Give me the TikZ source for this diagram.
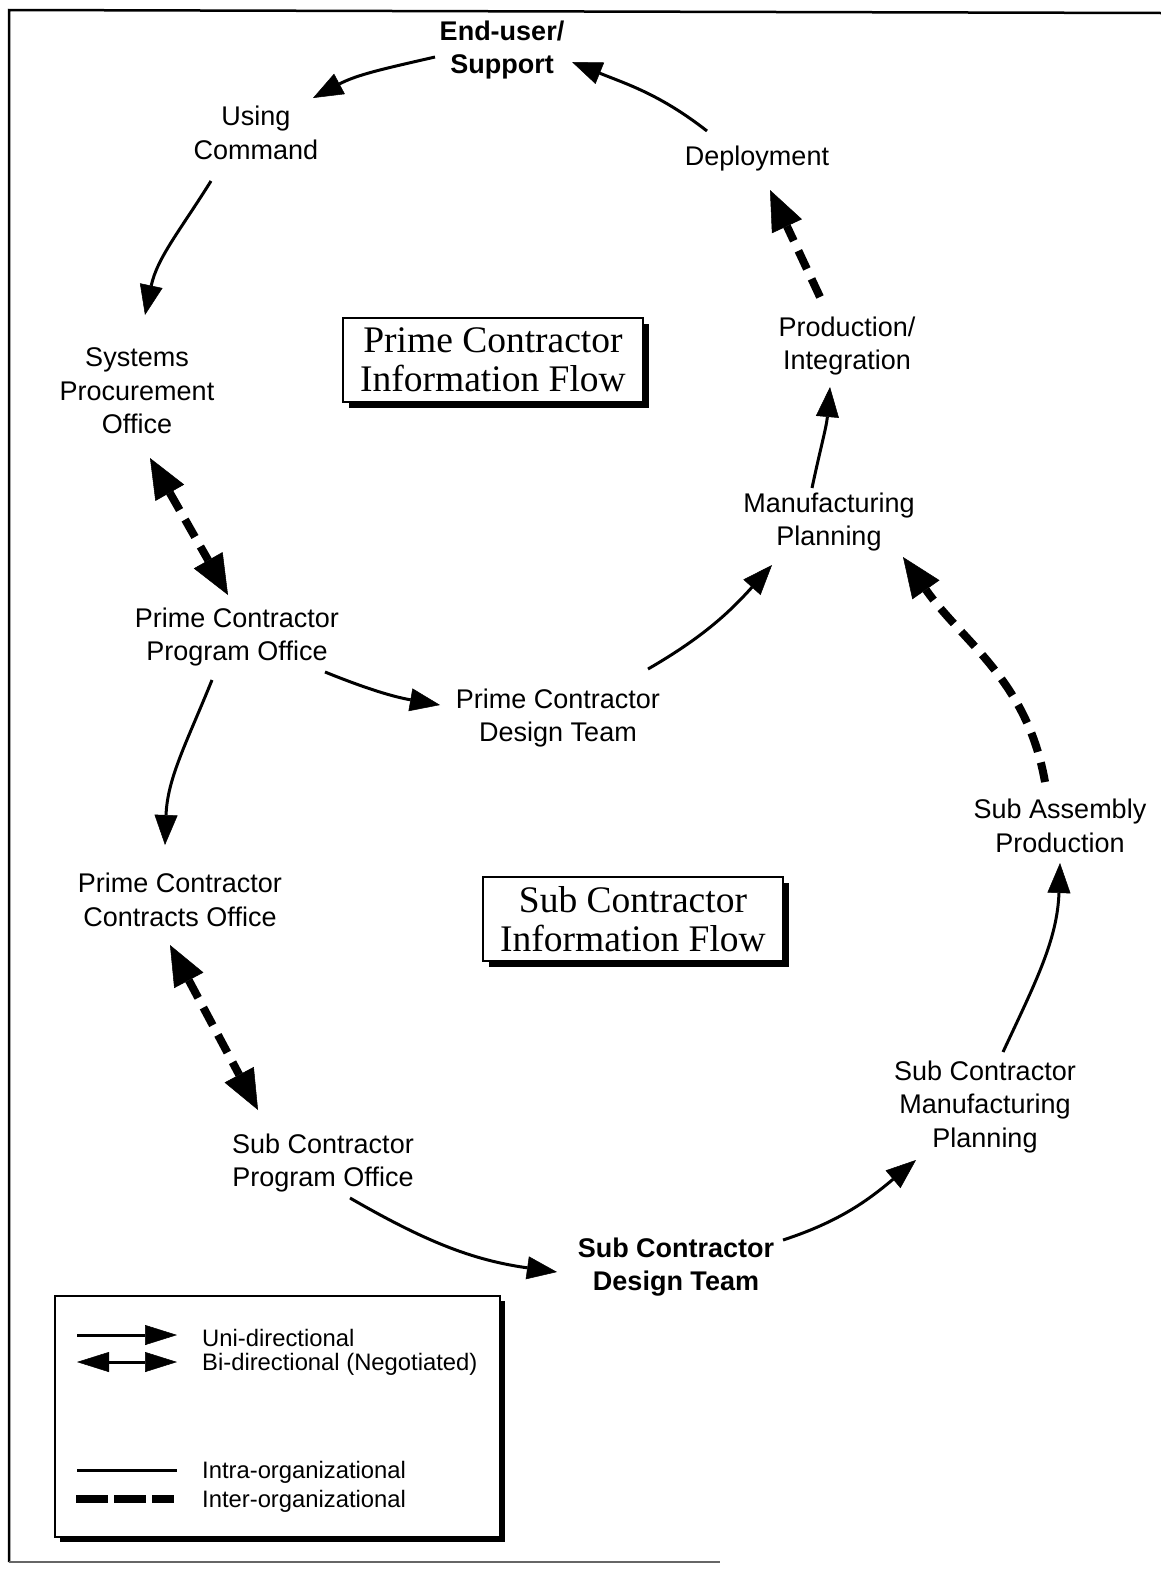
\documentclass[tikz,border=0pt]{standalone}
\usepackage{fontspec}
\setmainfont{Liberation Sans}
\newfontfamily\seriffam{Liberation Serif}
\usetikzlibrary{arrows.meta,shadows}
\begin{document}
\begin{tikzpicture}[x=1pt,y=1pt,
  lbl/.style={font=\fontsize{27}{33.5}\selectfont, align=center, inner sep=0pt},
  bl/.style={font=\fontsize{27}{33.5}\selectfont\bfseries, align=center, inner sep=0pt},
  sol/.style={line width=3pt, -{Triangle[length=30pt,width=23pt,line width=0.5pt]}},
  dsh/.style={line width=8pt, dash pattern=on 20pt off 11pt, -{Triangle[length=40pt,width=33pt,line width=0.5pt]}},
  dsh2/.style={line width=8pt, dash pattern=on 20pt off 11pt, {Triangle[length=40pt,width=33pt,line width=0.5pt]}-{Triangle[length=40pt,width=33pt,line width=0.5pt]}},
  titlebox/.style={draw, line width=2pt, fill=white, minimum width=300pt, minimum height=84pt,
    inner sep=0pt, align=center, font=\seriffam\fontsize{37.5}{39}\selectfont,
    drop shadow={shadow xshift=6pt, shadow yshift=-6pt, fill=black, opacity=1}},
  legtxt/.style={font=\fontsize{23.8}{27}\selectfont, anchor=west, inner sep=0pt}
]
\useasboundingbox (0,0) rectangle (1161,-1569);
% frame
\draw[line width=2.5pt] (1161,-13) -- (9,-10) -- (9,-1562);
\draw[line width=2pt, black!60] (9,-1562) -- (720,-1562);

% nodes
\node[bl]  (eu)   at (502,-50)   {End-user/\\Support};
\node[lbl] (uc)   at (256,-133)  {Using\\Command};
\node[lbl] (dep)  at (757,-159)  {Deployment};
\node[lbl] (spo)  at (137,-391)  {Systems\\Procurement\\Office};
\node[lbl] (prod) at (847,-346)  {Production/\\Integration};
\node[lbl] (mp)   at (829,-522)  {Manufacturing\\Planning};
\node[lbl] (ppo)  at (237,-637)  {Prime Contractor\\Program Office};
\node[lbl] (pdt)  at (558,-718)  {Prime Contractor\\Design Team};
\node[lbl] (sap)  at (1060,-826) {Sub Assembly\\Production};
\node[lbl] (pco)  at (180,-900)  {Prime Contractor\\Contracts Office};
\node[lbl] (smp)  at (985,-1107) {Sub Contractor\\Manufacturing\\Planning};
\node[lbl] (sco)  at (323,-1163) {Sub Contractor\\Program Office};
\node[bl]  (sdt)  at (676,-1267) {Sub Contractor\\Design Team};

\node[titlebox] (pci) at (493,-360) {Prime Contractor\\Information Flow};
\node[titlebox] (sci) at (633,-919) {Sub Contractor\\Information Flow};

% connectors
\draw[sol] ([shift={(-67,-7)}]eu.center) to[out=193,in=28] ([shift={(57,35)}]uc.center);
\draw[sol] ([shift={(-45,-48)}]uc.center) to[out=238,in=78] ([shift={(8,76)}]spo.center);
\draw[sol] ([shift={(-50,28)}]dep.center) to[out=142,in=-22] ([shift={(70,-12)}]eu.center);
\draw[dsh] ([shift={(-27,49)}]prod.center) -- ([shift={(13,-31)}]dep.center);
\draw[sol] ([shift={(-17,34)}]mp.center) to[out=78,in=265] ([shift={(-17,-41)}]prod.center);
\draw[dsh2] ([shift={(13,-67)}]spo.center) -- ([shift={(-9,42)}]ppo.center);
\draw[sol] ([shift={(88,-35)}]ppo.center) to[out=-22,in=170] ([shift={(-118,13)}]pdt.center);
\draw[sol] ([shift={(-25,-43)}]ppo.center) to[out=248,in=88] ([shift={(-15,55)}]pco.center);
\draw[sol] ([shift={(90,49)}]pdt.center) to[out=30,in=228] ([shift={(-57,-43)}]mp.center);
\draw[dsh] ([shift={(-15,44)}]sap.center) to[out=100,in=-55] ([shift={(74,-35)}]mp.center);
\draw[dsh2] ([shift={(-10,-45)}]pco.center) -- ([shift={(-65,53)}]sco.center);
\draw[sol] ([shift={(27,-35)}]sco.center) to[out=-30,in=172] ([shift={(-119,-5)}]sdt.center);
\draw[sol] ([shift={(107,27)}]sdt.center) to[out=18,in=220] ([shift={(-69,-53)}]smp.center);
\draw[sol] ([shift={(18,55)}]smp.center) to[out=65,in=268] ([shift={(0,-37)}]sap.center);

% legend
\node[draw, line width=2.5pt, fill=white, minimum width=445pt, minimum height=241pt, inner sep=0pt,
  drop shadow={shadow xshift=5pt, shadow yshift=-5pt, fill=black, opacity=1}] (leg) at (277.5,-1416.5) {};
\coordinate (ua) at (77,-1335);
\coordinate (ub) at (177,-1335);
\coordinate (ba) at (77,-1362);
\coordinate (bb) at (177,-1362);
\coordinate (ia) at (77,-1470);
\coordinate (ib) at (177,-1470);
\coordinate (xa) at (76,-1499);
\coordinate (xb) at (174,-1499);
\draw[line width=3pt, -{Triangle[length=32pt,width=20pt,line width=0.5pt]}] (ua) -- (ub);
\draw[line width=3pt, {Triangle[length=32pt,width=20pt,line width=0.5pt]}-{Triangle[length=32pt,width=20pt,line width=0.5pt]}] (ba) -- (bb);
\draw[line width=3pt] (ia) -- (ib);
\draw[line width=8pt, dash pattern=on 32pt off 6pt] (xa) -- (xb);
\node[legtxt] (lu) at (202,-1338) {Uni-directional};
\node[legtxt] (lb) at (202,-1364) {Bi-directional (Negotiated)};
\node[legtxt] (li) at (202,-1472) {Intra-organizational};
\node[legtxt] (lx) at (202,-1501) {Inter-organizational};
\end{tikzpicture}
\end{document}
